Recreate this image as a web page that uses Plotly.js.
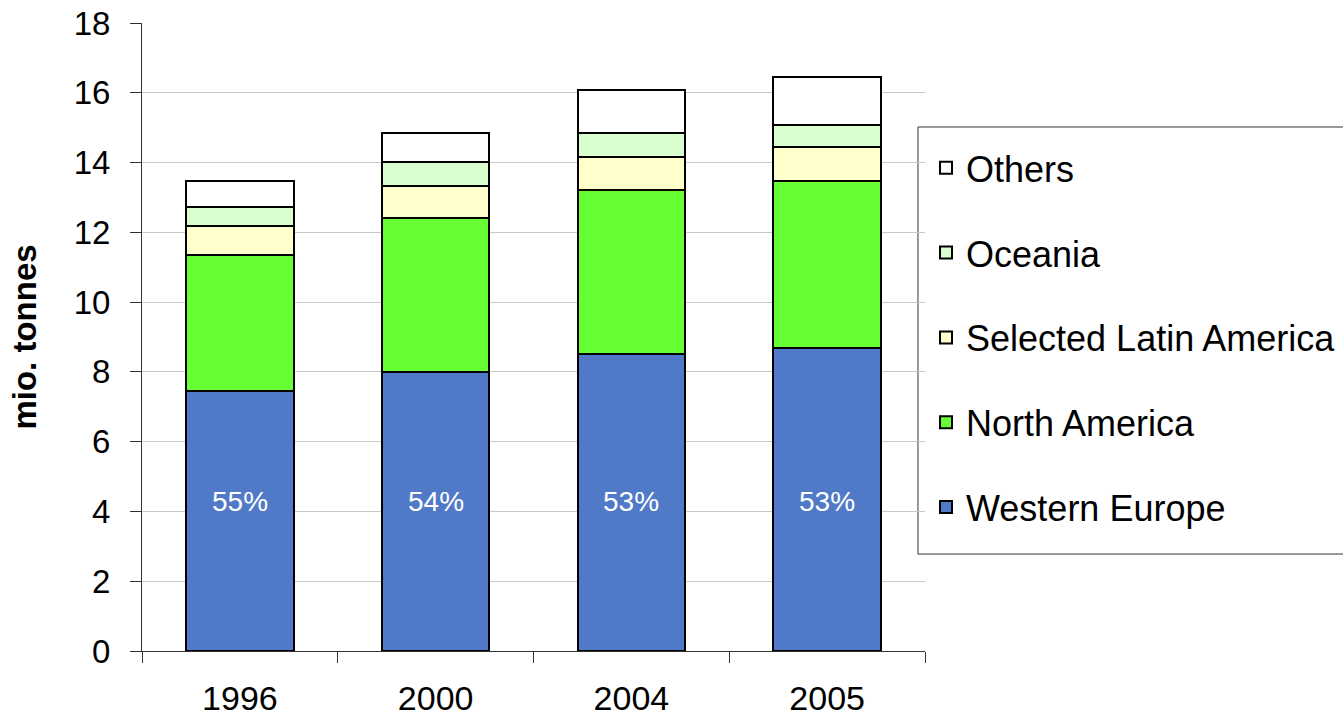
<!DOCTYPE html>
<html>
<head>
<meta charset="utf-8">
<script src="https://cdn.plot.ly/plotly-3.0.1.min.js"></script>
<style>html,body{margin:0;padding:0;background:#fff;}#chart{width:1343px;height:717px;}</style>
</head>
<body>
<div id="chart"></div>
<script>
const years = ["1996", "2000", "2004", "2005"];
const westernEurope = [7.44, 7.99, 8.51, 8.68];
const northAmerica = [3.91, 4.42, 4.71, 4.78];
const latinAmerica = [0.82, 0.93, 0.93, 1.00];
const oceania = [0.55, 0.69, 0.70, 0.62];
const others = [0.74, 0.82, 1.22, 1.37];
const pctLabels = ["55%", "54%", "53%", "53%"];
const yTicks = [0, 2, 4, 6, 8, 10, 12, 14, 16, 18];

const FONT = "Liberation Sans, Arial, sans-serif";
const LABEL_Y = 4.28;

function bar(name, y, color, rank) {
  return {
    type: "bar", name: name, x: years, y: y, legendgroup: name, legendrank: rank,
    marker: {color: color, line: {color: "#000", width: 2}},
    hoverinfo: "x+y+name"
  };
}

const data = [
  bar("Western Europe", westernEurope, "#507ac8", 5),
  bar("North America", northAmerica, "#66ff33", 4),
  bar("Selected Latin America", latinAmerica, "#ffffcc", 3),
  bar("Oceania", oceania, "#daffcf", 2),
  bar("Others", others, "#ffffff", 1)
];

const annotations = years.map((yr, i) => ({
  x: i, y: LABEL_Y, xref: "x", yref: "y", text: pctLabels[i],
  showarrow: false, font: {family: FONT, size: 28, color: "#ffffff"}
}));

const layout = {
  width: 1343, height: 717,
  margin: {l: 142, r: 0, t: 23, b: 66, autoexpand: false},
  paper_bgcolor: "#fff", plot_bgcolor: "#fff",
  barmode: "stack", bargap: 0.45,
  font: {family: FONT, size: 33, color: "#000"},
  xaxis: {
    domain: [0, 0.652], type: "category", range: [-0.5, 3.5],
    showline: true, linecolor: "#333", linewidth: 1,
    ticks: "outside", ticklen: 11, tickcolor: "#333", tickson: "boundaries",
    showgrid: false, tickfont: {size: 34}, ticklabelstandoff: 17, tickangle: 0
  },
  yaxis: {
    range: [0, 18], tickvals: yTicks, ticktext: yTicks.map(String),
    showline: true, linecolor: "#333", linewidth: 1,
    ticks: "outside", ticklen: 11, tickcolor: "#333",
    showgrid: true, gridcolor: "#c8c8c8", gridwidth: 1,
    zeroline: false, tickfont: {size: 33}, ticklabelstandoff: 13,
    title: {text: "<b>mio. tonnes</b>", font: {size: 33}, standoff: 27}
  },
  legend: {
    x: 0.6528, y: 0.817, xanchor: "left", yanchor: "top",
    traceorder: "grouped", tracegroupgap: 35,
    borderwidth: 0, bgcolor: "rgba(0,0,0,0)",
    font: {family: FONT, size: 36}
  },
  shapes: [{
    type: "rect", xref: "paper", yref: "paper",
    x0: 0.6461, x1: 1.05, y0: 0.1544, y1: 0.8344,
    line: {color: "#333", width: 1}, fillcolor: "rgba(255,255,255,0)", layer: "below"
  }],
  annotations: annotations,
  showlegend: true
};

Plotly.newPlot("chart", data, layout, {displayModeBar: false, staticPlot: true});
</script>
</body>
</html>
